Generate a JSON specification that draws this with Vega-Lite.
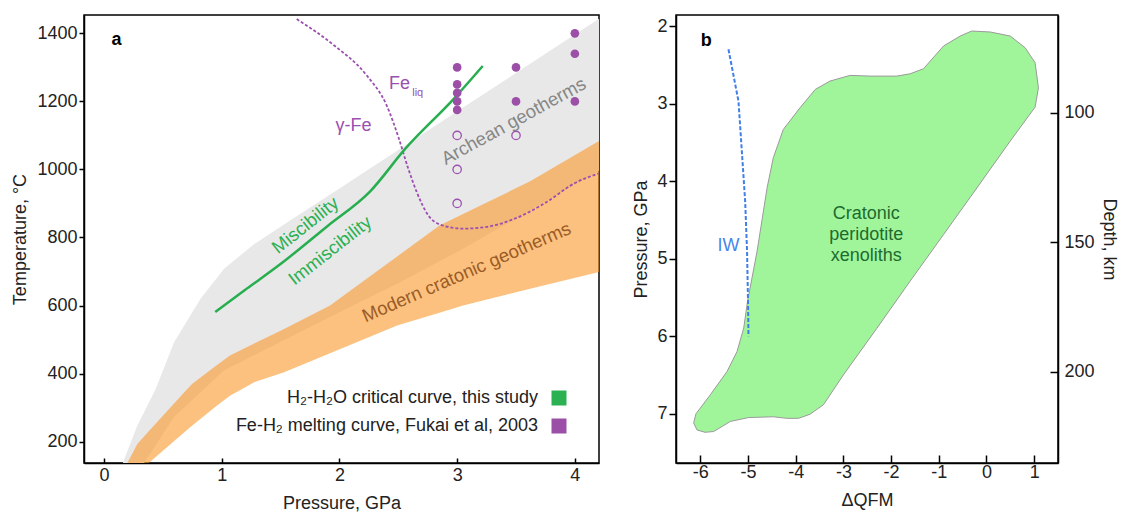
{
  "$schema": "https://vega.github.io/schema/vega-lite/v6.json",
  "background": "white",
  "padding": {"left": 11, "top": 14, "right": 0, "bottom": 0},
  "spacing": 32,
  "datasets": {
    "grey": [
      {"P": 0.1, "T": 83, "T2": 10}, {"P": 0.16, "T": 137, "T2": 42}, {"P": 0.283, "T": 247, "T2": 107},
      {"P": 0.34, "T": 286, "T2": 137}, {"P": 0.44, "T": 355, "T2": 190}, {"P": 0.595, "T": 492, "T2": 272},
      {"P": 0.82, "T": 620, "T2": 345}, {"P": 1.02, "T": 708, "T2": 410}, {"P": 1.274, "T": 780, "T2": 454},
      {"P": 1.6, "T": 854, "T2": 510}, {"P": 2.0, "T": 944, "T2": 580}, {"P": 2.49, "T": 1055, "T2": 664},
      {"P": 3.05, "T": 1182, "T2": 767}, {"P": 3.6, "T": 1306, "T2": 876}, {"P": 4.25, "T": 1453, "T2": 1005}
    ],
    "orange": [
      {"P": 0.1, "T": 75, "T2": 53}, {"P": 0.198, "T": 137, "T2": 82}, {"P": 0.283, "T": 193, "T2": 108},
      {"P": 0.38, "T": 230, "T2": 137}, {"P": 0.68, "T": 344, "T2": 227}, {"P": 0.75, "T": 370, "T2": 247},
      {"P": 0.96, "T": 425, "T2": 306}, {"P": 1.07, "T": 453, "T2": 335}, {"P": 1.28, "T": 489, "T2": 375},
      {"P": 1.53, "T": 531, "T2": 404}, {"P": 1.92, "T": 600, "T2": 460}, {"P": 2.49, "T": 744, "T2": 541},
      {"P": 2.85, "T": 835, "T2": 579}, {"P": 3.05, "T": 869, "T2": 600}, {"P": 3.62, "T": 965, "T2": 649},
      {"P": 4.25, "T": 1093, "T2": 702}
    ],
    "fukaiCurve": [
      {"P": 1.637, "T": 1442}, {"P": 1.95, "T": 1366}, {"P": 2.23, "T": 1277}, {"P": 2.4, "T": 1189},
      {"P": 2.5, "T": 1096}, {"P": 2.585, "T": 1002}, {"P": 2.656, "T": 934}, {"P": 2.755, "T": 865},
      {"P": 2.855, "T": 838}, {"P": 3.05, "T": 826}, {"P": 3.25, "T": 831}, {"P": 3.48, "T": 854},
      {"P": 3.76, "T": 904}, {"P": 3.99, "T": 958}, {"P": 4.2, "T": 988}
    ],
    "critical": [
      {"P": 0.945, "T": 581}, {"P": 1.2, "T": 646}, {"P": 1.485, "T": 718}, {"P": 1.9, "T": 834},
      {"P": 2.257, "T": 934}, {"P": 2.56, "T": 1061}, {"P": 2.975, "T": 1209}, {"P": 3.217, "T": 1304}
    ],
    "melted": [
      {"P": 3, "T": 1300, "series": "Fe-H₂ melting curve, Fukai et al, 2003"},
      {"P": 3, "T": 1250, "series": "Fe-H₂ melting curve, Fukai et al, 2003"},
      {"P": 3, "T": 1225, "series": "Fe-H₂ melting curve, Fukai et al, 2003"},
      {"P": 3, "T": 1200, "series": "Fe-H₂ melting curve, Fukai et al, 2003"},
      {"P": 3, "T": 1175, "series": "Fe-H₂ melting curve, Fukai et al, 2003"},
      {"P": 3.5, "T": 1300, "series": "Fe-H₂ melting curve, Fukai et al, 2003"},
      {"P": 3.5, "T": 1200, "series": "Fe-H₂ melting curve, Fukai et al, 2003"},
      {"P": 4, "T": 1400, "series": "Fe-H₂ melting curve, Fukai et al, 2003"},
      {"P": 4, "T": 1340, "series": "Fe-H₂ melting curve, Fukai et al, 2003"},
      {"P": 4, "T": 1200, "series": "Fe-H₂ melting curve, Fukai et al, 2003"}
    ],
    "solid": [
      {"P": 3, "T": 1100}, {"P": 3, "T": 1000}, {"P": 3, "T": 900}, {"P": 3.5, "T": 1100}
    ],
    "xenoliths": [
      {"i": 1, "Q": -0.31, "P": 2.065}, {"i": 2, "Q": 0.078, "P": 2.077}, {"i": 3, "Q": 0.497, "P": 2.129},
      {"i": 4, "Q": 0.811, "P": 2.28}, {"i": 5, "Q": 1.02, "P": 2.474}, {"i": 6, "Q": 1.09, "P": 2.797},
      {"i": 7, "Q": 1.02, "P": 3.046}, {"i": 8, "Q": 0.497, "P": 3.485}, {"i": 9, "Q": -0.2, "P": 4.088},
      {"i": 10, "Q": -0.9, "P": 4.69}, {"i": 11, "Q": -1.6, "P": 5.29}, {"i": 12, "Q": -2.3, "P": 5.9},
      {"i": 13, "Q": -3.0, "P": 6.5}, {"i": 14, "Q": -3.42, "P": 6.886}, {"i": 15, "Q": -3.7, "P": 7.007},
      {"i": 16, "Q": -3.94, "P": 7.06}, {"i": 17, "Q": -4.18, "P": 7.06}, {"i": 18, "Q": -4.47, "P": 7.04},
      {"i": 19, "Q": -4.99, "P": 7.05}, {"i": 20, "Q": -5.37, "P": 7.1}, {"i": 21, "Q": -5.72, "P": 7.23},
      {"i": 22, "Q": -5.9, "P": 7.24}, {"i": 23, "Q": -6.07, "P": 7.21}, {"i": 24, "Q": -6.14, "P": 7.12},
      {"i": 25, "Q": -6.09, "P": 7.0}, {"i": 26, "Q": -5.79, "P": 6.756}, {"i": 27, "Q": -5.44, "P": 6.456},
      {"i": 28, "Q": -5.23, "P": 6.198}, {"i": 29, "Q": -5.09, "P": 5.896}, {"i": 30, "Q": -5.01, "P": 5.55},
      {"i": 31, "Q": -4.81, "P": 4.906}, {"i": 32, "Q": -4.6, "P": 4.088}, {"i": 33, "Q": -4.47, "P": 3.7},
      {"i": 34, "Q": -4.26, "P": 3.334}, {"i": 35, "Q": -3.91, "P": 3.055}, {"i": 36, "Q": -3.59, "P": 2.818},
      {"i": 37, "Q": -3.28, "P": 2.71}, {"i": 38, "Q": -2.86, "P": 2.637}, {"i": 39, "Q": -2.44, "P": 2.646},
      {"i": 40, "Q": -1.88, "P": 2.646}, {"i": 41, "Q": -1.6, "P": 2.616}, {"i": 42, "Q": -1.32, "P": 2.551},
      {"i": 43, "Q": -0.9, "P": 2.258}, {"i": 44, "Q": -0.55, "P": 2.129}
    ],
    "iw": [
      {"Q": -5.41, "P": 2.3}, {"Q": -5.2, "P": 2.97}, {"Q": -5.13, "P": 3.61}, {"Q": -5.06, "P": 4.26},
      {"Q": -5.02, "P": 4.906}, {"Q": -5.0, "P": 5.55}, {"Q": -4.99, "P": 6.0}
    ]
  },
  "hconcat": [
    {
      "width": 515,
      "height": 448,
      "layer": [
        {
          "data": {"name": "grey"},
          "mark": {"type": "area", "color": "#e8e8e8", "clip": true},
          "encoding": {
            "x": {"field": "P", "type": "quantitative", "scale": {"domain": [-0.17, 4.205], "nice": false, "zero": false},
                  "axis": {"values": [0, 1, 2, 3, 4], "labelExpr": "'' + datum.value", "title": "Pressure, GPa", "tickSize": -5, "labelPadding": 8, "titlePadding": 10}},
            "y": {"field": "T", "type": "quantitative", "scale": {"domain": [137, 1454], "nice": false, "zero": false},
                  "axis": {"values": [200, 400, 600, 800, 1000, 1200, 1400], "labelExpr": "'' + datum.value", "title": "Temperature, °C", "tickSize": 5, "labelPadding": 2, "titlePadding": 7}},
            "y2": {"field": "T2"}
          }
        },
        {
          "data": {"name": "orange"},
          "mark": {"type": "area", "color": "#fc982a", "opacity": 0.6, "clip": true},
          "encoding": {
            "x": {"field": "P", "type": "quantitative"},
            "y": {"field": "T", "type": "quantitative"},
            "y2": {"field": "T2"}
          }
        },
        {
          "data": {"name": "fukaiCurve"},
          "mark": {"type": "line", "color": "#9b4fb0", "strokeWidth": 1.8, "strokeDash": [3, 2], "interpolate": "monotone", "clip": true},
          "encoding": {
            "x": {"field": "P", "type": "quantitative"},
            "y": {"field": "T", "type": "quantitative"}
          }
        },
        {
          "data": {"name": "critical"},
          "mark": {"type": "line", "color": "#27ae50", "strokeWidth": 2.5, "interpolate": "monotone", "clip": true},
          "encoding": {
            "x": {"field": "P", "type": "quantitative"},
            "y": {"field": "T", "type": "quantitative"}
          }
        },
        {
          "data": {"name": "solid"},
          "mark": {"type": "point", "shape": "circle", "filled": false, "color": "#9b4fb0", "size": 70, "strokeWidth": 1.3, "opacity": 1},
          "encoding": {
            "x": {"field": "P", "type": "quantitative"},
            "y": {"field": "T", "type": "quantitative"}
          }
        },
        {
          "data": {"name": "melted"},
          "mark": {"type": "point", "shape": "circle", "filled": true, "size": 75, "opacity": 1},
          "encoding": {
            "x": {"field": "P", "type": "quantitative"},
            "y": {"field": "T", "type": "quantitative"},
            "color": {
              "field": "series", "type": "nominal",
              "scale": {"domain": ["H₂-H₂O critical curve, this study", "Fe-H₂ melting curve, Fukai et al, 2003"], "range": ["#2bb052", "#9b4fa6"]},
              "legend": {"orient": "none", "legendX": 466, "legendY": 374, "title": null, "symbolType": "square", "symbolSize": 225,
                         "symbolStrokeWidth": 0, "labelFontSize": 18, "labelColor": "#222", "labelAlign": "right", "labelOffset": -30,
                         "labelLimit": 500, "rowPadding": 10, "padding": 0}
            }
          }
        },
        {
          "data": {"values": [{"P": 0.107, "T": 1380, "label": "a"}]},
          "mark": {"type": "text", "fontSize": 18, "fontWeight": "bold", "color": "#000", "align": "center", "baseline": "middle"},
          "encoding": {"x": {"field": "P", "type": "quantitative"}, "y": {"field": "T", "type": "quantitative"}, "text": {"field": "label"}}
        },
        {
          "data": {"values": [{"P": 2.12, "T": 1127, "label": "γ-Fe"}]},
          "mark": {"type": "text", "fontSize": 18, "color": "#9b4fb0", "align": "center", "baseline": "middle"},
          "encoding": {"x": {"field": "P", "type": "quantitative"}, "y": {"field": "T", "type": "quantitative"}, "text": {"field": "label"}}
        },
        {
          "data": {"values": [{"P": 2.51, "T": 1250, "label": "Fe"}]},
          "mark": {"type": "text", "fontSize": 18, "color": "#9b4fb0", "align": "center", "baseline": "middle"},
          "encoding": {"x": {"field": "P", "type": "quantitative"}, "y": {"field": "T", "type": "quantitative"}, "text": {"field": "label"}}
        },
        {
          "data": {"values": [{"P": 2.665, "T": 1224, "label": "liq"}]},
          "mark": {"type": "text", "fontSize": 11, "color": "#9b4fb0", "align": "center", "baseline": "middle"},
          "encoding": {"x": {"field": "P", "type": "quantitative"}, "y": {"field": "T", "type": "quantitative"}, "text": {"field": "label"}}
        },
        {
          "data": {"values": [{"P": 3.48, "T": 1142, "label": "Archean geotherms"}]},
          "mark": {"type": "text", "fontSize": 18.5, "color": "#868686", "align": "center", "baseline": "middle", "angle": -28.7},
          "encoding": {"x": {"field": "P", "type": "quantitative"}, "y": {"field": "T", "type": "quantitative"}, "text": {"field": "label"}}
        },
        {
          "data": {"values": [{"P": 3.08, "T": 698, "label": "Modern cratonic geotherms"}]},
          "mark": {"type": "text", "fontSize": 18.5, "color": "#9a5c26", "align": "center", "baseline": "middle", "angle": -23.4},
          "encoding": {"x": {"field": "P", "type": "quantitative"}, "y": {"field": "T", "type": "quantitative"}, "text": {"field": "label"}}
        },
        {
          "data": {"values": [{"P": 1.71, "T": 836, "label": "Miscibility"}]},
          "mark": {"type": "text", "fontSize": 18.5, "color": "#2bb052", "align": "center", "baseline": "middle", "angle": -38.5},
          "encoding": {"x": {"field": "P", "type": "quantitative"}, "y": {"field": "T", "type": "quantitative"}, "text": {"field": "label"}}
        },
        {
          "data": {"values": [{"P": 1.92, "T": 762, "label": "Immiscibility"}]},
          "mark": {"type": "text", "fontSize": 18.5, "color": "#2bb052", "align": "center", "baseline": "middle", "angle": -38},
          "encoding": {"x": {"field": "P", "type": "quantitative"}, "y": {"field": "T", "type": "quantitative"}, "text": {"field": "label"}}
        }
      ]
    },
    {
      "width": 382,
      "height": 448,
      "layer": [
        {
          "layer": [
            {
              "data": {"name": "xenoliths"},
              "mark": {"type": "line", "interpolate": "linear-closed", "fill": "#a0f59b", "stroke": "#9a9a9a", "strokeWidth": 1},
              "encoding": {
                "x": {"field": "Q", "type": "quantitative", "scale": {"domain": [-6.51, 1.5], "nice": false, "zero": false},
                      "axis": {"values": [-6, -5, -4, -3, -2, -1, 0, 1], "labelExpr": "'' + datum.value", "title": "ΔQFM", "tickSize": -8, "labelPadding": 8, "titlePadding": 10}},
                "y": {"field": "P", "type": "quantitative", "scale": {"domain": [1.858, 7.636], "nice": false, "zero": false, "reverse": true},
                      "axis": {"values": [2, 3, 4, 5, 6, 7], "labelExpr": "'' + datum.value", "title": "Pressure, GPa", "tickSize": 7, "labelPadding": 2, "titlePadding": 6}},
                "order": {"field": "i", "type": "quantitative"}
              }
            },
            {
              "data": {"name": "iw"},
              "mark": {"type": "line", "color": "#3f7fe6", "strokeWidth": 2, "strokeDash": [4, 2]},
              "encoding": {
                "x": {"field": "Q", "type": "quantitative"},
                "y": {"field": "P", "type": "quantitative"},
                "order": {"field": "P", "type": "quantitative"}
              }
            },
            {
              "data": {"values": [{"Q": -5.41, "P": 4.84, "label": "IW"}]},
              "mark": {"type": "text", "fontSize": 18, "color": "#4a86e8", "align": "center", "baseline": "middle"},
              "encoding": {"x": {"field": "Q", "type": "quantitative"}, "y": {"field": "P", "type": "quantitative"}, "text": {"field": "label"}}
            },
            {
              "data": {"values": [{"Q": -2.52, "P": 4.42, "label": "Cratonic\nperidotite\nxenoliths"}]},
              "mark": {"type": "text", "fontSize": 18, "color": "#1d6b2e", "align": "center", "baseline": "middle", "lineBreak": "\n", "lineHeight": 21},
              "encoding": {"x": {"field": "Q", "type": "quantitative"}, "y": {"field": "P", "type": "quantitative"}, "text": {"field": "label"}}
            },
            {
              "data": {"values": [{"Q": -5.876, "P": 2.19, "label": "b"}]},
              "mark": {"type": "text", "fontSize": 18, "fontWeight": "bold", "color": "#000", "align": "center", "baseline": "middle"},
              "encoding": {"x": {"field": "Q", "type": "quantitative"}, "y": {"field": "P", "type": "quantitative"}, "text": {"field": "label"}}
            }
          ]
        },
        {
          "data": {"values": [{"depth": 100}, {"depth": 200}]},
          "mark": {"type": "point", "opacity": 0},
          "encoding": {
            "y": {"field": "depth", "type": "quantitative", "scale": {"domain": [62.3, 235.3], "nice": false, "zero": false, "reverse": true},
                  "axis": {"orient": "right", "values": [100, 150, 200], "labelExpr": "'' + datum.value", "title": "Depth, km", "tickSize": -8, "labelPadding": 14, "titlePadding": 5}}
          }
        }
      ],
      "resolve": {"scale": {"y": "independent"}, "axis": {"y": "independent"}}
    }
  ],
  "config": {
    "font": "Liberation Sans",
    "view": {"stroke": "#000", "strokeWidth": 1.5},
    "axis": {"grid": false, "domainColor": "#000", "domainWidth": 1.5, "tickColor": "#000", "tickWidth": 1.5,
             "labelFontSize": 18, "titleFontSize": 18, "titleFontWeight": "normal", "labelColor": "#222", "titleColor": "#222",
             "labelFont": "Liberation Sans", "titleFont": "Liberation Sans"}
  }
}
